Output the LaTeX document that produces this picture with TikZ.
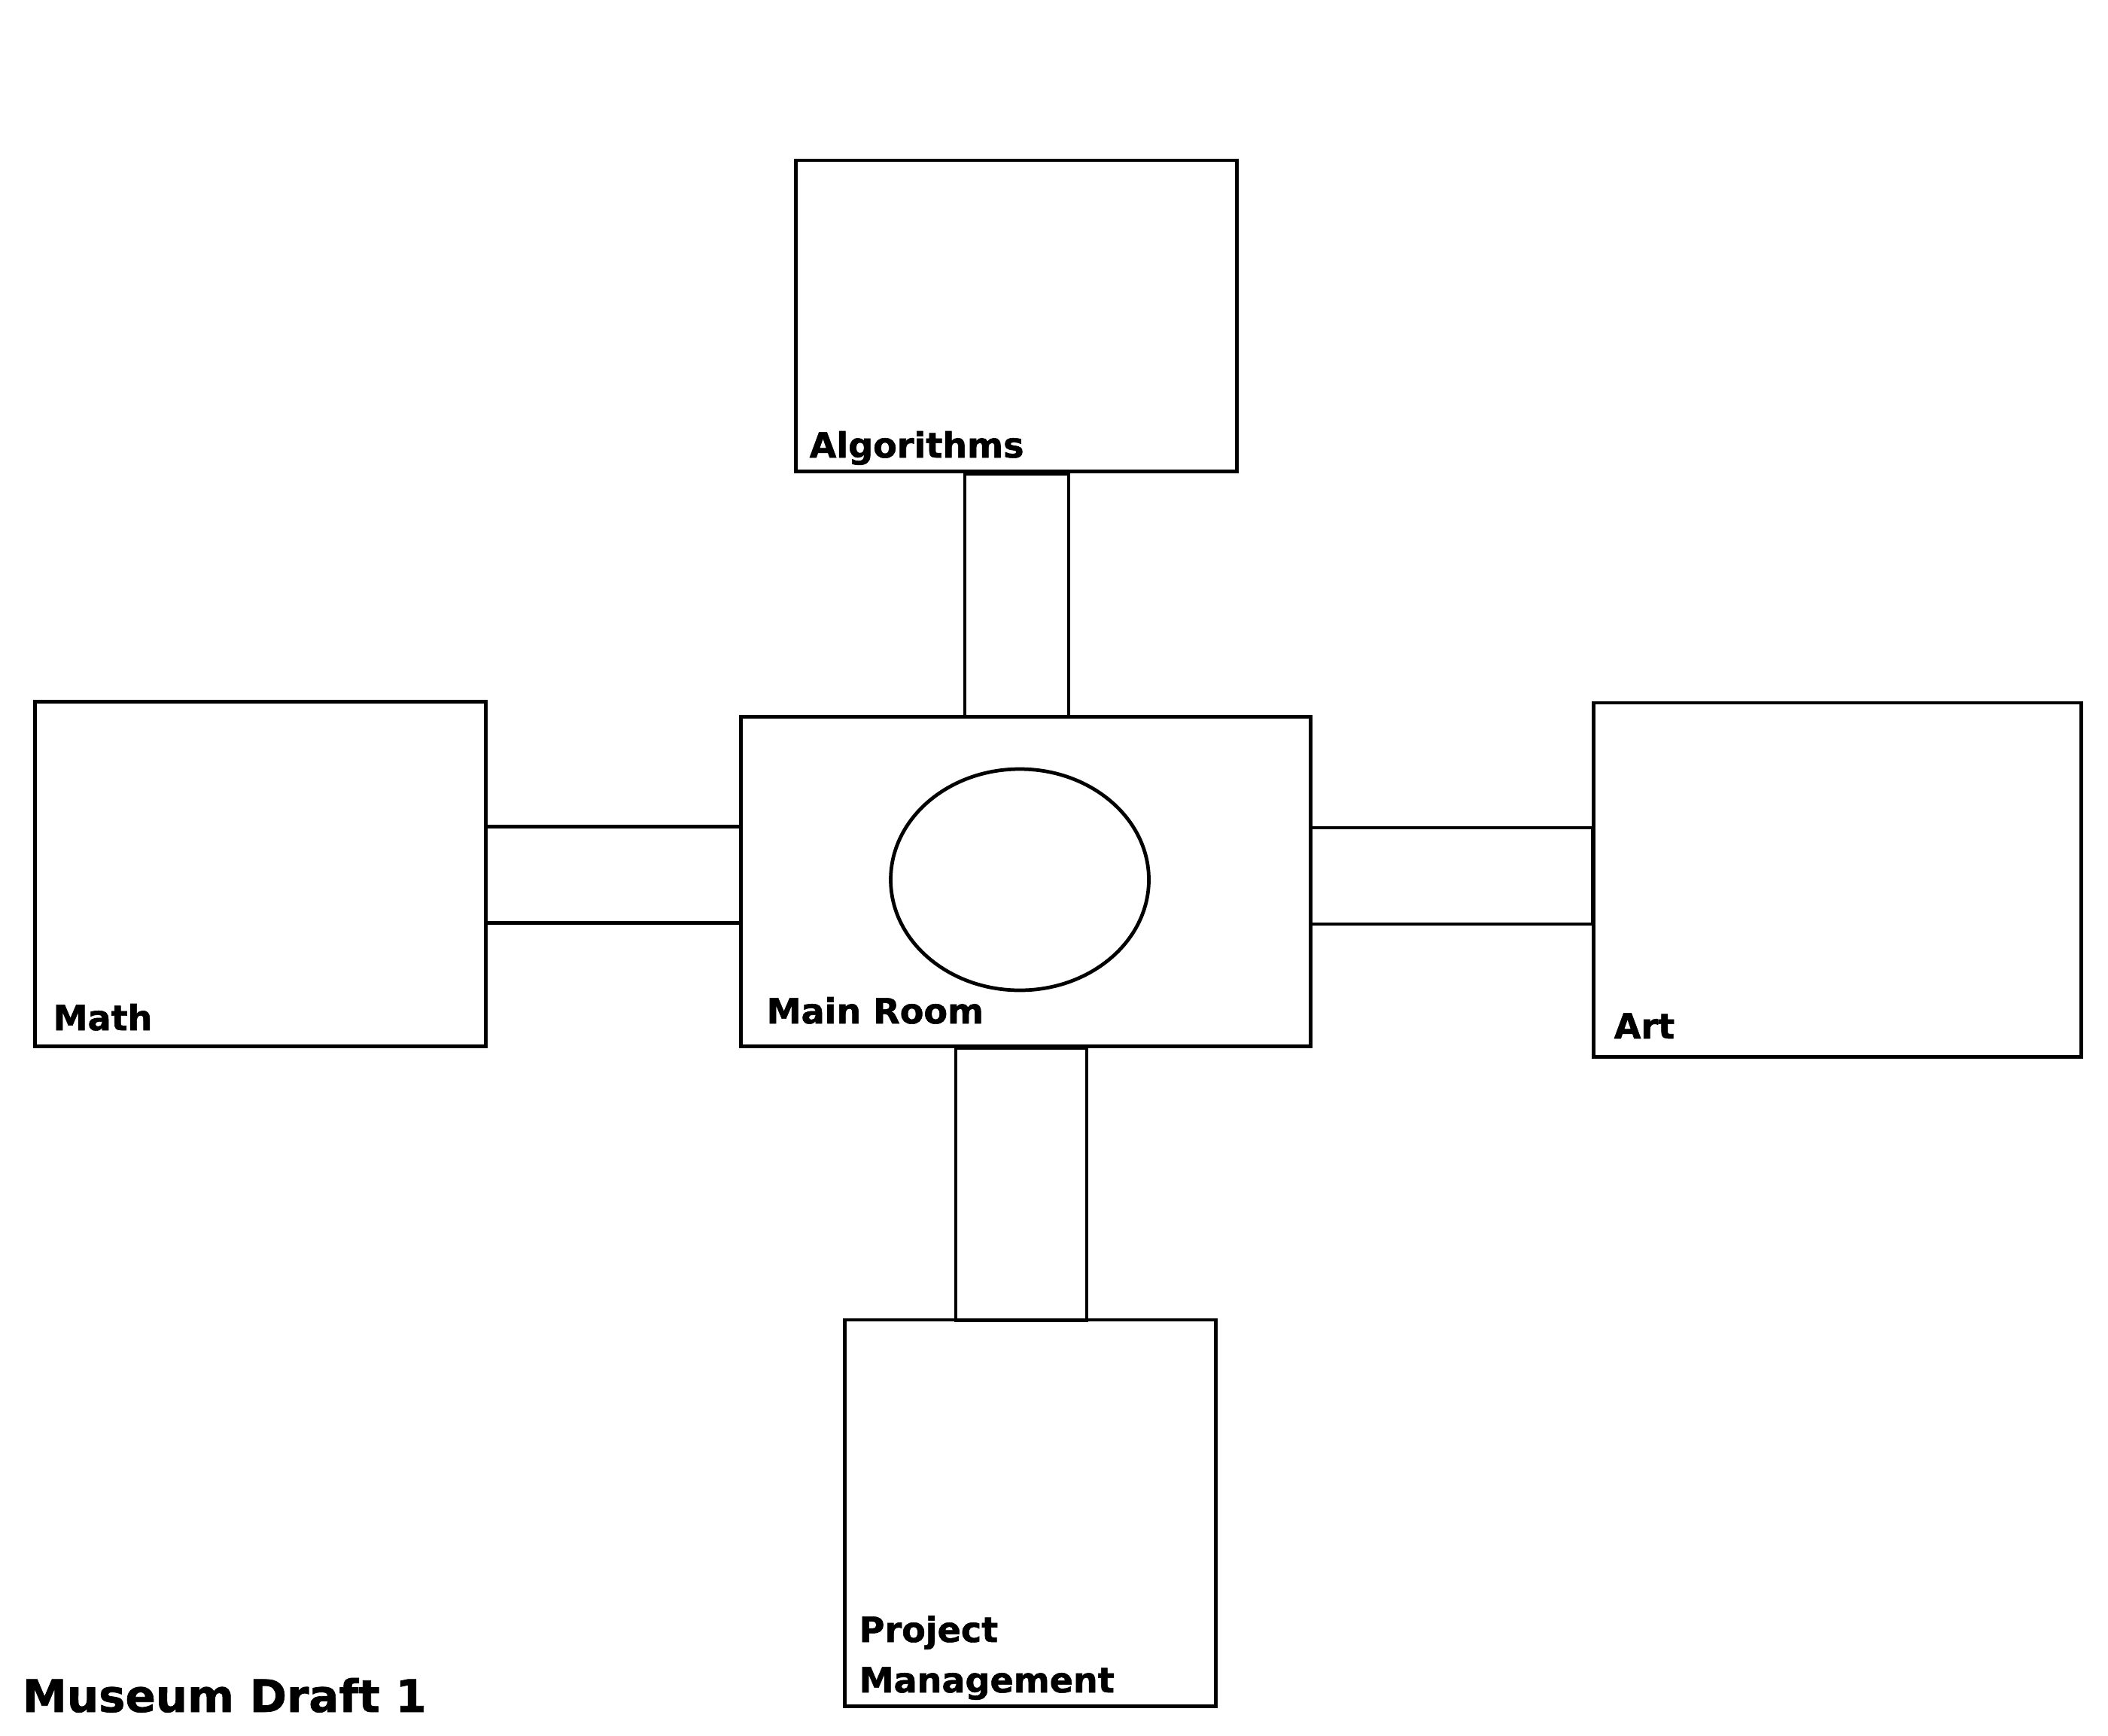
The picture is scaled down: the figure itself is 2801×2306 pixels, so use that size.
\documentclass[tikz,border=0pt]{standalone}
\usepackage{fontspec}
\setmainfont{DejaVu Sans}[BoldFeatures={FakeBold=1.2}]
\tikzset{
  wall/.style={draw, line width=1.35pt},
  room/.style={wall, rectangle, inner sep=0pt, outer sep=0pt},
  roomname/.style={anchor=base west, inner sep=0pt, font=\fontsize{13.1}{19}\selectfont\bfseries},
}
\begin{document}
\begin{tikzpicture}[x=0.01cm, y=-0.01cm]
\useasboundingbox (0,0) rectangle (2801,2306);
% rooms
\node[room, minimum width=5.854cm, minimum height=4.13cm] (alg) at (1350.3,419.5){};
\node[room, minimum width=5.984cm, minimum height=4.574cm] (math) at (346.2,1161.3){};
\node[room, minimum width=7.56cm, minimum height=4.374cm] (main) at (1363,1171.3){};
\node[room, minimum width=6.47cm, minimum height=4.70cm] (art) at (2441.5,1169){};
\node[room, minimum width=4.93cm, minimum height=5.13cm] (pm) at (1369,2010.5){};
% fountain
\draw[wall] (1355,1169) ellipse [x radius=171.5, y radius=147];
% corridors
\draw[wall] (1282,630) rectangle (1420,952);
\draw[wall] (1270,1393) rectangle (1444,1755);
\draw[wall] (1741,1100) rectangle (2116,1228);
\draw[wall] (645,1098.5) -- (985,1098.5);
\draw[wall] (645,1226.5) -- (985,1226.5);
% labels
\node[roomname] (algname) at (1075,608){Algorithms};
\node[roomname] (mathname) at (70,1369){Math};
\node[roomname] (mainname) at (1018,1360){Main Room};
\node[roomname] (artname) at (2144,1380){Art};
\node[roomname] (pmname) at (1141,2182){Project};
\node[roomname] (pmname2) at (1141,2249){Management};
\node[roomname, font=\fontsize{16.9}{20}\selectfont\bfseries] (title) at (29,2275){Museum Draft 1};
\end{tikzpicture}
\end{document}
